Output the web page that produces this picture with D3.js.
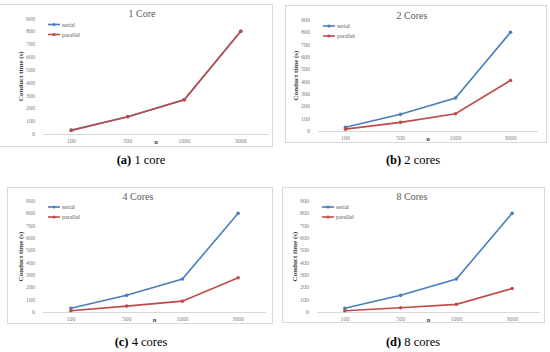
<!DOCTYPE html>
<html>
<head>
<meta charset="utf-8">
<script src="https://cdn.jsdelivr.net/npm/d3@7"></script>
<style>
  body { margin: 0; background: #fff; }
  svg { display: block; }
</style>
</head>
<body>
<svg id="chart" width="550" height="352"></svg>
<script>
// problem sizes on the x axis
const sizes = ['100', '500', '1000', '3000'];
const yTicks = [0, 100, 200, 300, 400, 500, 600, 700, 800, 900];

// serial run time (s), the same in every panel
const serialTime = [30, 135, 267, 800];

// parallel run time (s) per core count
const parallel1 = [28, 135, 267, 800];
const parallel2 = [15, 70, 140, 410];
const parallel4 = [10, 48, 88, 278];
const parallel8 = [10, 35, 62, 190];

const panelTitles = ['1 Core', '2 Cores', '4 Cores', '8 Cores'];
const captionTags = ['(a)', '(b)', '(c)', '(d)'];
const captionTexts = [' 1 core', ' 2 cores', ' 4 cores', ' 8 cores'];

const blue = '#4a7ebb', red = '#be4b48';
const serif = 'Liberation Serif, DejaVu Serif, serif';

// layout of each panel on the page
const layout = [
  {box: [-1, 4, 272, 146],   plot: [43, 269, 134, 18.5], title: [142, 17], cap: [141, 164]},
  {box: [285, 5, 546, 142],  plot: [318, 538, 131, 20],  title: [412, 19], cap: [413, 164]},
  {box: [7, 187, 272, 323],  plot: [43, 266, 312, 201],  title: [138, 200], cap: [141, 346]},
  {box: [282, 187, 544, 322], plot: [317, 540, 312, 201], title: [412, 200], cap: [413, 346]}
];
const parallelSets = [parallel1, parallel2, parallel4, parallel8];

const svg = d3.select('#chart');

layout.forEach((p, i) => {
  const g = svg.append('g');
  const [bx0, by0, bx1, by1] = p.box;
  g.append('rect')
    .attr('x', bx0 + 0.5).attr('y', by0 + 0.5)
    .attr('width', bx1 - bx0).attr('height', by1 - by0)
    .attr('fill', 'none').attr('stroke', '#d9d9d9').attr('stroke-width', 1);

  const [left, right, bottom, top] = p.plot;
  const x = d3.scalePoint().domain(sizes).range([left, right]).padding(0.5);
  const y = d3.scaleLinear().domain([0, 900]).range([bottom, top]);

  // baseline
  g.append('line')
    .attr('x1', left).attr('x2', right)
    .attr('y1', Math.round(y(0)) + 0.5).attr('y2', Math.round(y(0)) + 0.5)
    .attr('stroke', '#d9d9d9');

  // y tick labels
  g.selectAll('.yl').data(yTicks).enter().append('text')
    .attr('x', left - 8).attr('y', d => y(d) + 2)
    .attr('text-anchor', 'end')
    .attr('font-family', serif).attr('font-size', 6)
    .attr('fill', '#7f7f7f')
    .text(d => d);

  // x tick labels
  g.selectAll('.xl').data(sizes).enter().append('text')
    .attr('x', d => x(d)).attr('y', y(0) + 9)
    .attr('text-anchor', 'middle')
    .attr('font-family', serif).attr('font-size', 6)
    .attr('fill', '#7f7f7f')
    .text(d => d);

  // x axis name
  g.append('text')
    .attr('x', (x('500') + x('1000')) / 2).attr('y', y(0) + 9.5)
    .attr('text-anchor', 'middle')
    .attr('font-family', serif).attr('font-size', 6.5).attr('font-weight', 'bold')
    .attr('fill', '#404040')
    .text('n');

  // y axis name
  g.append('text')
    .attr('transform', `translate(${left - 20},${(top + bottom) / 2}) rotate(-90)`)
    .attr('text-anchor', 'middle')
    .attr('font-family', serif).attr('font-size', 7).attr('font-weight', 'bold')
    .attr('fill', '#404040')
    .text('Conduct  time (s)');

  // title
  g.append('text')
    .attr('x', p.title[0]).attr('y', p.title[1])
    .attr('text-anchor', 'middle')
    .attr('font-family', serif).attr('font-size', 10)
    .attr('fill', '#595959')
    .text(panelTitles[i]);

  // series
  const line = d3.line().x((d, k) => x(sizes[k])).y(d => y(d));
  const series = [
    {name: 'serial', values: serialTime, color: blue},
    {name: 'parallel', values: parallelSets[i], color: red}
  ];
  series.forEach(s => {
    g.append('path').datum(s.values)
      .attr('d', line)
      .attr('fill', 'none').attr('stroke', s.color).attr('stroke-width', 1.6);
    g.selectAll(null).data(s.values).enter().append('circle')
      .attr('cx', (d, k) => x(sizes[k])).attr('cy', d => y(d))
      .attr('r', 1.8).attr('fill', s.color);
  });

  // legend
  series.forEach((s, k) => {
    const ly = top + 6 + k * 10;
    g.append('line')
      .attr('x1', left + 5).attr('x2', left + 17)
      .attr('y1', ly).attr('y2', ly)
      .attr('stroke', s.color).attr('stroke-width', 1.6);
    g.append('circle').attr('cx', left + 11).attr('cy', ly).attr('r', 1.6).attr('fill', s.color);
    g.append('text')
      .attr('x', left + 19).attr('y', ly + 2)
      .attr('font-family', serif).attr('font-size', 6)
      .attr('fill', '#595959')
      .text(s.name);
  });

  // caption
  const cap = svg.append('text')
    .attr('x', p.cap[0]).attr('y', p.cap[1])
    .attr('text-anchor', 'middle')
    .attr('font-family', serif).attr('font-size', 12.5)
    .attr('fill', '#000');
  cap.append('tspan').attr('font-weight', 'bold').text(captionTags[i]);
  cap.append('tspan').text(captionTexts[i]);
});
</script>
</body>
</html>
